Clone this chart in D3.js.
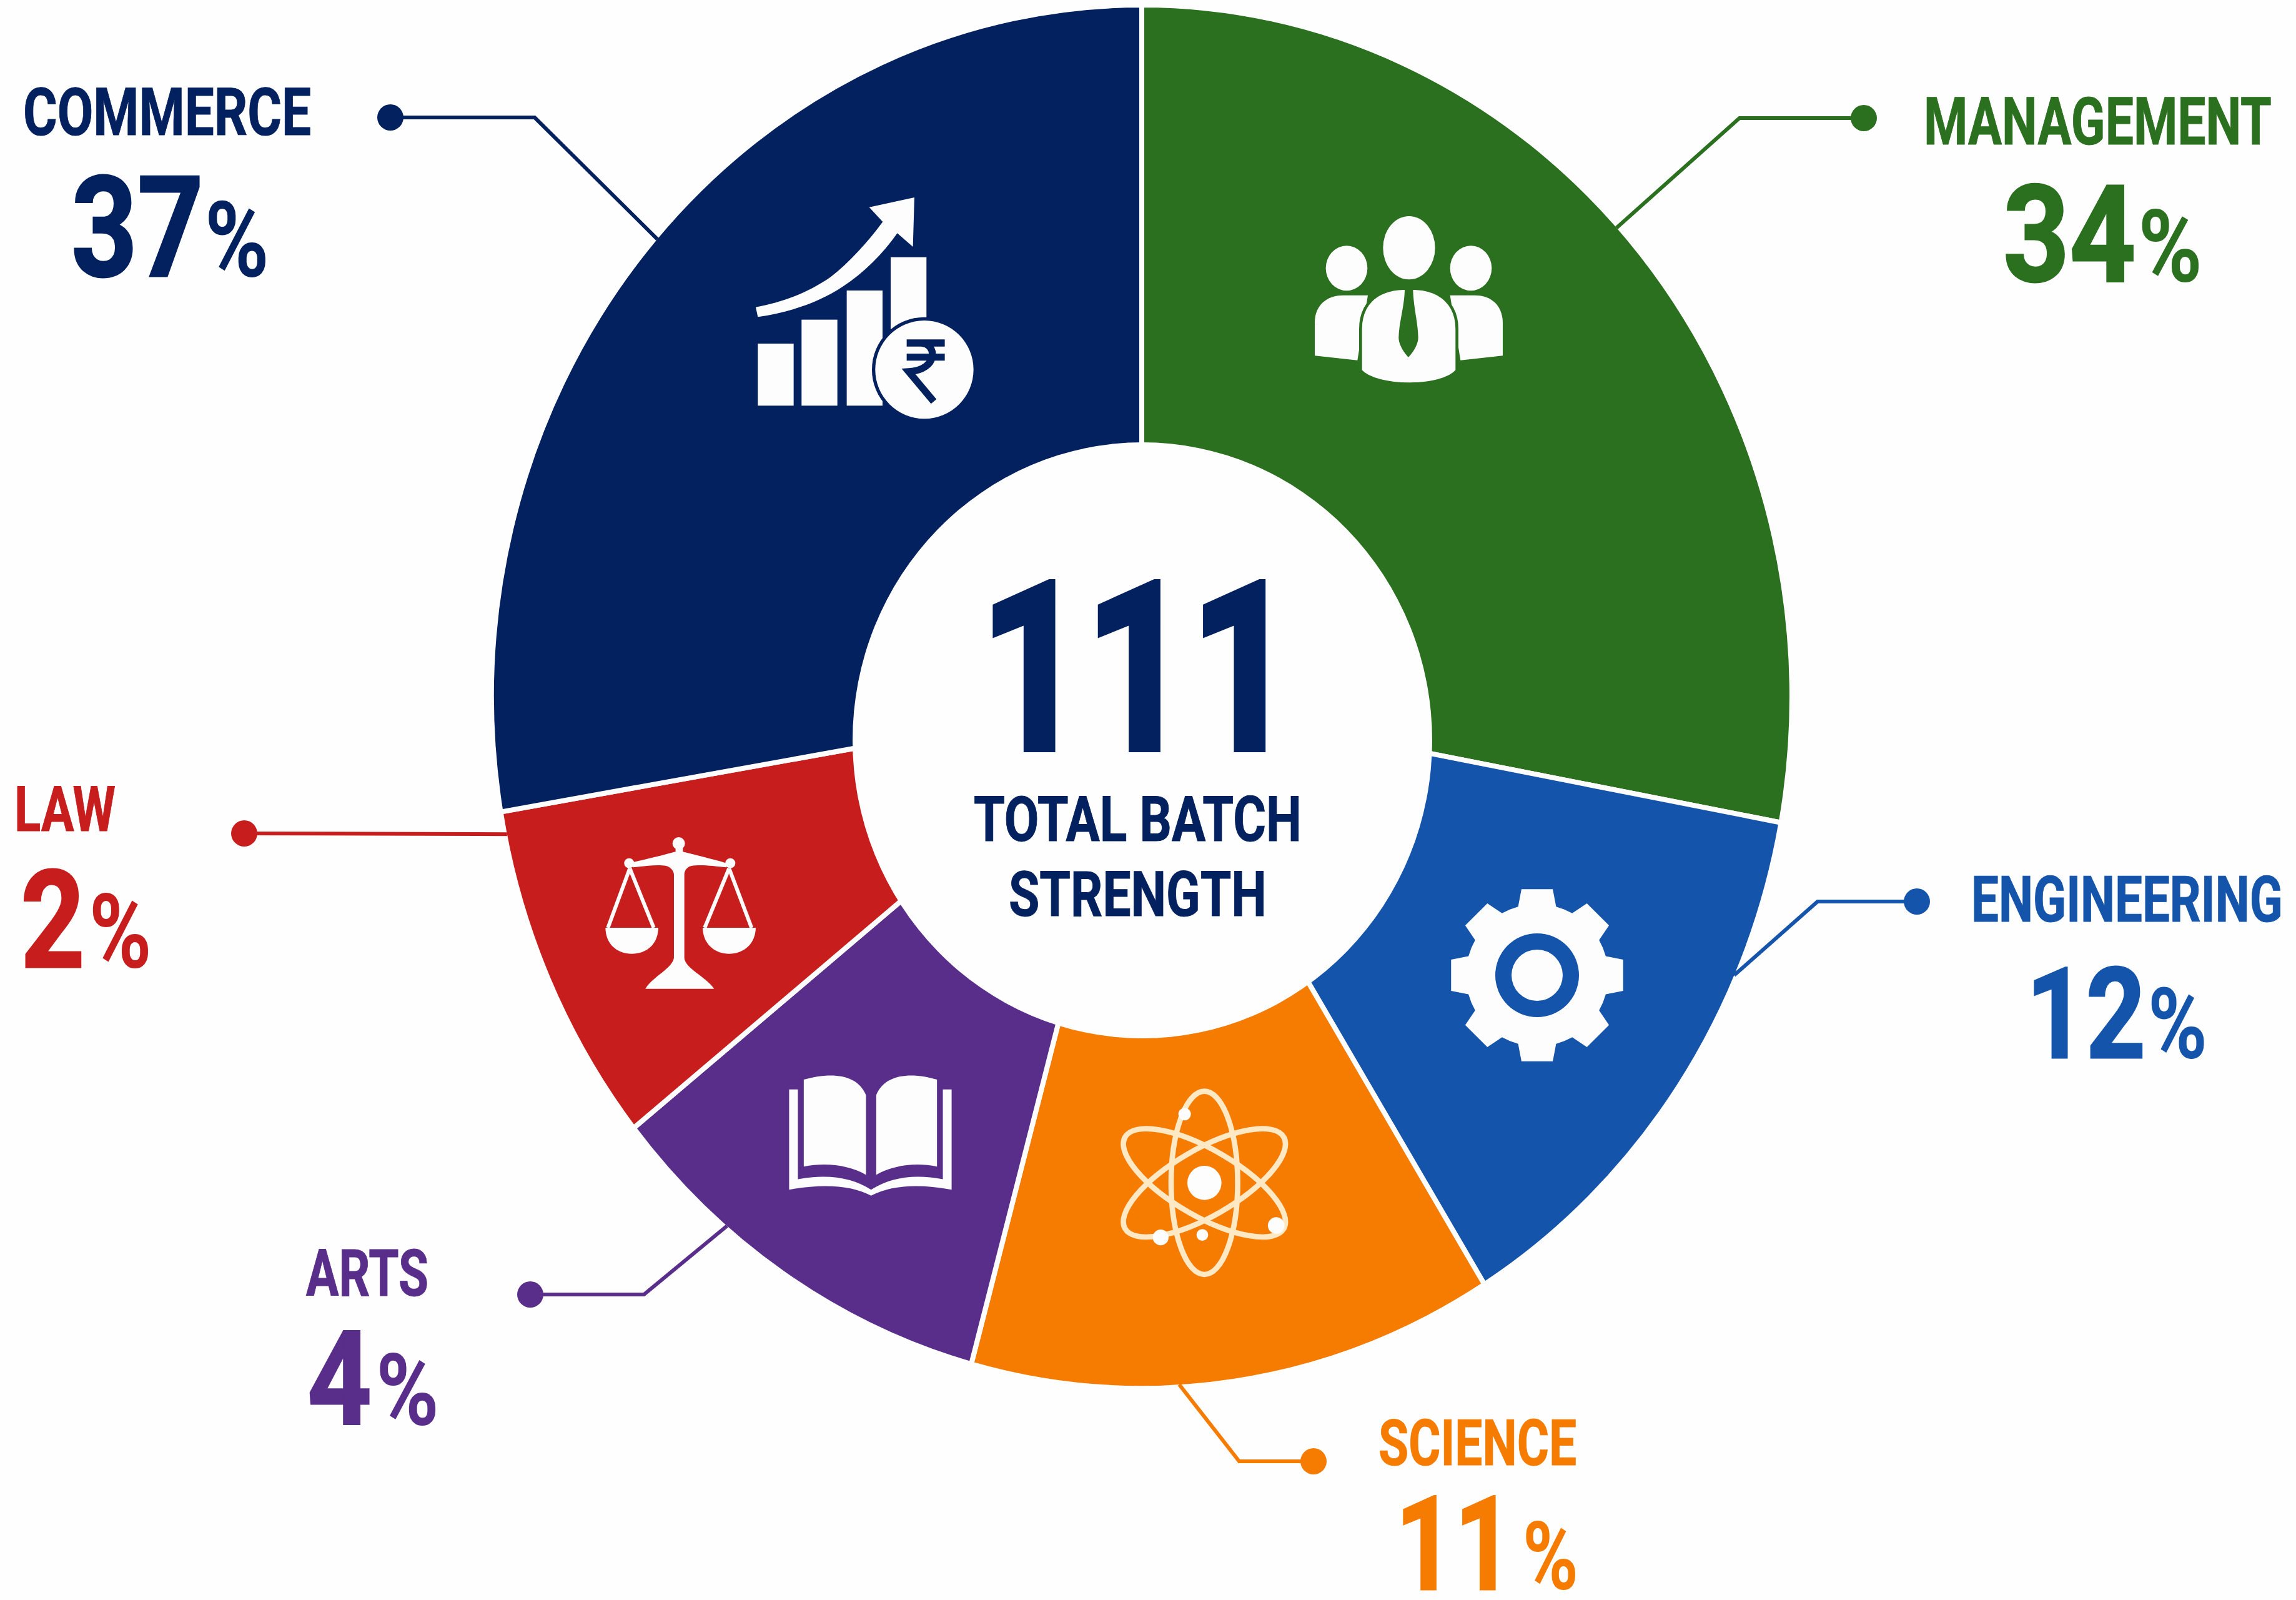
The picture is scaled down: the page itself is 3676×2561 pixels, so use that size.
<!DOCTYPE html>
<html>
<head>
<meta charset="utf-8">
<script src="https://cdn.jsdelivr.net/npm/d3@7"></script>
<style>
  html, body { margin: 0; padding: 0; background: #fefefe; }
  svg { display: block; }
  text { font-family: Roboto, "Liberation Sans", sans-serif; font-weight: 700; }
</style>
</head>
<body>
<div id="chart-container"></div>
<script>
const width = 3676;
const height = 2561;

// values as printed on the chart
const categories = ["Management", "Engineering", "Science", "Arts", "Law", "Commerce"];
const percents = [34, 12, 11, 4, 2, 37];
const totalStudents = 111;
const centerLines = ["TOTAL BATCH", "STRENGTH"];

// size of each slice as drawn, in degrees (the picture does not follow the printed percents)
const arcDegrees = [100.5, 47.7, 47, 36.2, 29, 99.6];
// where along its slice each leader line touches the rim (0 to 1)
const leaderAlong = [0.469, 0.28, 0.606, 0.68, 0.934, 0.514];

const colors = ["#2b701f", "#1454aa", "#f57c00", "#592d8a", "#c71e1d", "#03215f"];

// the ring is slightly taller than wide and the hole sits lower than the centre of the pie
const pieCenter = { x: 1828, y: 1115 };
const rimX = 1041, rimY = 1107;
const hole = { x: 1829, y: 1185, rx: 464, ry: 477 };

const color = d3.scaleOrdinal().domain(categories).range(colors);

const labelLayout = {
    Management:  { name: [3080, 231, 557, 106], pct: [3207, 450, 319, 216, 162, 4], dot: [2984, 189], elbow: [2785, 189] },
    Engineering: { name: [3156, 1475, 499, 102], pct: [3244, 1693, 290, 203, 157, 4], dot: [3069, 1443], elbow: [2910, 1443] },
    Science:     { name: [2207, 2345, 317, 102], pct: [2234, 2544, 293, 209, 153, 18], dot: [2103, 2339], elbow: [1984, 2339] },
    Arts:        { name: [490, 2074, 196, 104], pct: [492, 2280, 211, 209, 159, 8], dot: [849, 2072], elbow: [1031, 2072] },
    Law:         { name: [23, 1330, 162, 101], pct: [33, 1548, 210, 218, 165, 8], dot: [391, 1334], elbow: null },
    Commerce:    { name: [37, 216, 461, 106], pct: [114, 442, 317, 224, 169, 2], dot: [625, 188], elbow: [856, 188] }
};

const svg = d3.select("#chart-container")
    .append("svg")
    .attr("width", width)
    .attr("height", height);

svg.append("rect")
    .attr("width", width)
    .attr("height", height)
    .attr("fill", "#fefefe");

// squeeze or stretch a text so it takes the width it has in the picture
function fitText(text, x, y, w) {
    const sx = w / text.node().getBBox().width;
    text.attr("transform", `translate(${x},${y}) scale(${sx},1)`);
}

// slices
const slices = d3.pie()
    .sort(null)
    .value(d => d.degrees)(categories.map((name, i) => ({ name, degrees: arcDegrees[i], along: leaderAlong[i] })));

const R = 1000;
const arc = d3.arc().innerRadius(0).outerRadius(R);

svg.append("g")
    .attr("transform", `translate(${pieCenter.x},${pieCenter.y}) scale(${rimX / R},${rimY / R})`)
    .selectAll("path")
    .data(slices)
    .join("path")
    .attr("d", arc)
    .attr("fill", d => color(d.data.name))
    .attr("stroke", "#fefefe")
    .attr("stroke-width", 8)
    .attr("vector-effect", "non-scaling-stroke");

svg.append("ellipse")
    .attr("cx", hole.x)
    .attr("cy", hole.y)
    .attr("rx", hole.rx)
    .attr("ry", hole.ry)
    .attr("fill", "#fefefe");

// leader lines, they end on the rim of their slice
const leaderLine = d3.line();

slices.forEach(s => {
    const layout = labelLayout[s.data.name];
    const a = s.startAngle + (s.endAngle - s.startAngle) * s.data.along;
    const rimPoint = [pieCenter.x + (rimX - 4) * Math.sin(a), pieCenter.y - (rimY - 4) * Math.cos(a)];
    const points = layout.elbow ? [layout.dot, layout.elbow, rimPoint] : [layout.dot, rimPoint];

    svg.append("path")
        .attr("d", leaderLine(points))
        .attr("fill", "none")
        .attr("stroke", color(s.data.name))
        .attr("stroke-width", 6);

    svg.append("circle")
        .attr("cx", layout.dot[0])
        .attr("cy", layout.dot[1])
        .attr("r", 21)
        .attr("fill", color(s.data.name));
});

// outside labels
categories.forEach((name, i) => {
    const layout = labelLayout[name];
    const [nameX, nameY, nameW, nameSize] = layout.name;
    const [pctX, pctY, pctW, numSize, signSize, gap] = layout.pct;

    const label = svg.append("text")
        .attr("font-size", nameSize)
        .attr("fill", color(name))
        .attr("stroke", color(name))
        .attr("stroke-width", 1)
        .text(name.toUpperCase());
    fitText(label, nameX, nameY, nameW);

    const pct = svg.append("text")
        .attr("fill", color(name))
        .attr("stroke", color(name))
        .attr("stroke-width", 3);
    pct.append("tspan").attr("font-size", numSize).text(percents[i]);
    pct.append("tspan").attr("font-size", signSize).attr("dx", gap).attr("stroke-width", 0).text("%");
    fitText(pct, pctX, pctY, pctW);
});

// centre of the ring
const totalText = svg.append("text")
    .attr("font-size", 372)
    .attr("fill", "#03215f")
    .attr("stroke", "#03215f")
    .attr("stroke-width", 12)
    .text(totalStudents);
fitText(totalText, 1570, 1198, 505);

svg.selectAll(".center-line")
    .data(centerLines)
    .join("text")
    .attr("class", "center-line")
    .attr("font-size", 100)
    .attr("fill", "#03215f")
    .attr("stroke", "#03215f")
    .attr("stroke-width", 1)
    .text(d => d)
    .each(function (d, i) {
        fitText(d3.select(this), [1559, 1615][i], [1346, 1466][i], [525, 413][i]);
    });

// icons. Each one is sketched in the pixel grid of its own crop of the picture
const iconWhite = "#fdfdfd";

function drawCommerceIcon() {
    const g = svg.append("g").attr("transform", "translate(1150,280) scale(0.3333)");
    const navy = color("Commerce");
    [[190, 810], [400, 695], [617, 555], [828, 395]].forEach(([x, y]) => {
        g.append("rect").attr("x", x).attr("y", y).attr("width", 172).attr("height", 1108 - y).attr("fill", iconWhite);
    });
    g.append("path")
        .attr("d", "M180,635 C320,610 440,560 540,490 C630,420 720,320 790,225 L725,155 L942,108 L935,345 L860,280 C790,380 700,470 600,535 C480,615 340,660 190,682 Z")
        .attr("fill", iconWhite);
    g.append("circle").attr("cx", 990).attr("cy", 935).attr("r", 252).attr("fill", navy);
    g.append("circle").attr("cx", 990).attr("cy", 935).attr("r", 236).attr("fill", iconWhite);
    g.append("path")
        .attr("d", "M905,807 H1088 M905,875 H1088 M975,807 C1050,810 1060,935 915,945 L1035,1088")
        .attr("fill", "none")
        .attr("stroke", navy)
        .attr("stroke-width", 34);
}

function drawManagementIcon() {
    const g = svg.append("g").attr("transform", "translate(2050,300) scale(0.3333)");
    const green = color("Management");
    [[618, 290, 125, 152], [318, 388, 100, 108], [915, 388, 100, 108]].forEach(([cx, cy, rx, ry]) => {
        g.append("ellipse").attr("cx", cx).attr("cy", cy).attr("rx", rx).attr("ry", ry).attr("fill", iconWhite);
    });
    g.append("path")
        .attr("d", "M165,808 V650 C165,560 230,518 300,518 H420 L370,830 Z M1068,808 V650 C1068,560 1005,518 935,518 H815 L865,830 Z")
        .attr("fill", iconWhite);
    g.append("path")
        .attr("d", "M385,880 V680 C385,570 450,490 590,485 H645 C780,490 848,570 848,680 V880 C780,965 460,965 385,880 Z")
        .attr("fill", iconWhite)
        .attr("stroke", green)
        .attr("stroke-width", 14);
    g.append("path")
        .attr("d", "M597,470 H637 C635,560 660,640 662,720 C662,760 630,800 615,815 C600,800 568,760 568,720 C570,640 600,560 597,470 Z")
        .attr("fill", green);
}

function drawEngineeringIcon() {
    const points = [];
    d3.range(8).forEach(i => {
        const a = i * Math.PI / 4;
        points.push([a - 0.27, 114], [a - 0.18, 140], [a + 0.18, 140], [a + 0.27, 114], [a + Math.PI / 8, 114]);
    });
    const g = svg.append("g").attr("transform", "translate(2461,1561)");
    g.append("path")
        .attr("d", d3.lineRadial().curve(d3.curveLinearClosed)(points))
        .attr("fill", iconWhite);
    g.append("circle").attr("r", 67).attr("fill", color("Engineering"));
    g.append("circle").attr("r", 41).attr("fill", iconWhite);
}

function drawScienceIcon() {
    const g = svg.append("g").attr("transform", "translate(1750,1700) scale(0.3333)");
    [0, 60, -60].forEach(angle => {
        g.append("ellipse")
            .attr("cx", 535)
            .attr("cy", 580)
            .attr("rx", 160)
            .attr("ry", 440)
            .attr("transform", `rotate(${angle},535,580)`)
            .attr("fill", "none")
            .attr("stroke", "#ffe8c4")
            .attr("stroke-width", 26);
    });
    [[535, 580, 82], [440, 250, 30], [325, 842, 38], [880, 785, 40], [525, 830, 28]].forEach(([cx, cy, r]) => {
        g.append("circle").attr("cx", cx).attr("cy", cy).attr("r", r).attr("fill", iconWhite);
    });
}

function drawArtsIcon() {
    const g = svg.append("g").attr("transform", "translate(0,1180) scale(1.172,0.881)");
    g.append("path")
        .attr("d", "M1098,622 C1130,610 1170,608 1183,650 V795 C1160,778 1130,772 1098,780 Z M1197,650 C1210,608 1250,610 1280,622 V780 C1250,772 1220,778 1197,795 Z")
        .attr("fill", iconWhite);
    g.append("path")
        .attr("d", "M1078,640 H1090 V803 Q1150,788 1190,822 Q1230,788 1288,803 V640 H1300 V822 Q1230,805 1190,833 Q1150,805 1078,822 Z")
        .attr("fill", iconWhite);
}

function drawLawIcon() {
    const g = svg.append("g").attr("transform", "translate(930,1300) scale(0.3333)");
    g.append("circle").attr("cx", 470).attr("cy", 150).attr("r", 30).attr("fill", iconWhite);
    g.append("path")
        .attr("d", "M250,240 C320,225 400,205 455,190 V150 H490 V190 C550,205 630,225 700,245 L700,265 C640,258 570,250 530,258 C505,265 497,285 497,300 V700 C500,750 600,790 640,848 H310 C345,790 440,750 447,700 V300 C447,285 435,265 410,258 C370,250 310,258 250,265 Z")
        .attr("fill", iconWhite);
    g.append("path")
        .attr("d", "M235,270 L130,555 M235,270 L350,555 M712,270 L595,555 M712,270 L820,555")
        .attr("fill", "none")
        .attr("stroke", iconWhite)
        .attr("stroke-width", 18);
    g.append("path")
        .attr("d", "M118,555 H372 C370,640 310,680 245,680 C180,680 120,640 118,555 Z M585,555 H840 C838,640 775,680 712,680 C650,680 588,640 585,555 Z")
        .attr("fill", iconWhite);
    [[232, 245], [718, 245]].forEach(([cx, cy]) => {
        g.append("circle").attr("cx", cx).attr("cy", cy).attr("r", 24).attr("fill", iconWhite);
    });
}

drawCommerceIcon();
drawManagementIcon();
drawEngineeringIcon();
drawScienceIcon();
drawArtsIcon();
drawLawIcon();
</script>
</body>
</html>
